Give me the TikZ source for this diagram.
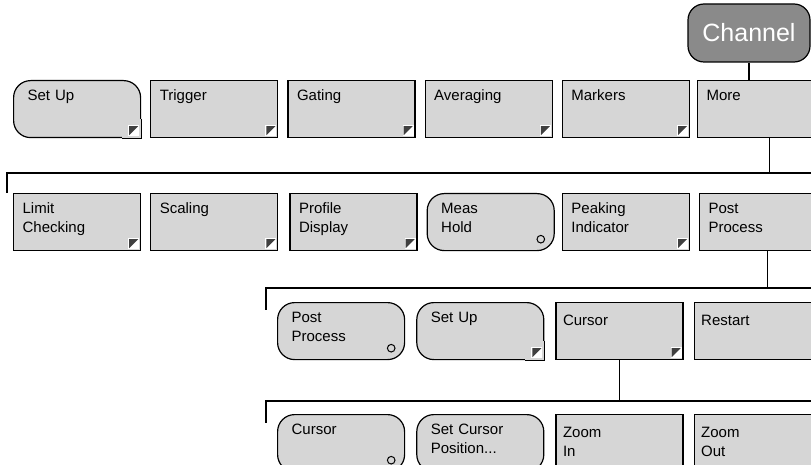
\documentclass[tikz,border=0pt]{standalone}
\usepackage{fontspec}
\setmainfont{Liberation Sans}
\usetikzlibrary{positioning, calc}
\definecolor{keygray}{HTML}{D6D6D6}
\definecolor{chgray}{HTML}{8A8A8A}
\definecolor{markgray}{HTML}{404040}
\tikzset{
  softkey/.style={rectangle, draw=black, line width=1.2pt, fill=keygray, inner xsep=9pt, inner ysep=7pt, text width=109pt, text height=13pt, text depth=30pt, align=left},
  lowkey/.style={softkey, text height=16pt, text depth=27pt, inner xsep=7pt, text width=113pt},
  roundkey/.style={softkey, rounded corners=17pt, inner xsep=14pt, text width=99pt},
  hardkey/.style={rectangle, rounded corners=16pt, draw=black, line width=1.2pt, fill=chgray, text=white, minimum width=122pt, minimum height=58pt, font=\fontsize{25}{30}\selectfont},
  bus/.style={line width=1.2pt}
}
% small marks in the lower right corner of a key
\newcommand{\submenu}[1]{%
  \fill[white] ($(#1.south east)+(-13pt,2pt)$) rectangle ($(#1.south east)+(-2pt,13pt)$);
  \fill[markgray] ($(#1.south east)+(-12pt,3pt)$) -- ($(#1.south east)+(-12pt,12pt)$) -- ($(#1.south east)+(-3pt,12pt)$) -- cycle;}
\newcommand{\togglemark}[1]{%
  \draw[line width=1pt] ($(#1.south east)+(-14pt,12pt)$) circle[radius=3.8pt];}
\newcommand{\sqcorner}[1]{%
  \fill[keygray] ($(#1.south east)+(-19pt,0.6pt)$) rectangle ($(#1.south east)+(-0.6pt,19pt)$);
  \draw[bus] ($(#1.south east)+(-19pt,0)$) -- (#1.south east) -- ++(0,19pt);}

\begin{document}
\begin{tikzpicture}[node distance=9pt, every node/.style={font=\fontsize{15}{18.5}\selectfont}]
        \useasboundingbox (0pt,0pt) rectangle (811pt,-465pt);

        \node (channel) [hardkey] at (749pt,-33pt) {Channel};

        % first row
        \node (setup) [roundkey, anchor=north west] at (13pt,-80pt) {Set Up};
        \node (trigger) [softkey, right=of setup] {Trigger};
        \node (gating) [softkey, right=of trigger] {Gating};
        \node (averaging) [softkey, right=of gating] {Averaging};
        \node (markers) [softkey, right=of averaging] {Markers};
        \node (more) [softkey, right=7pt of markers] {More};

        % second row
        \node (limit) [softkey, anchor=north west] at (13pt,-193pt) {Limit\\Checking};
        \node (scaling) [softkey, right=of limit] {Scaling};
        \node (profile) [softkey, right=11pt of scaling] {Profile\\Display};
        \node (meashold) [roundkey, right=of profile] {Meas\\Hold};
        \node (peaking) [softkey, right=7pt of meashold] {Peaking\\Indicator};
        \node (postproc) [softkey, right=of peaking] {Post\\Process};

        % third row
        \node (ppon) [roundkey, anchor=north west] at (277pt,-302pt) {Post\\Process};
        \node (ppsetup) [roundkey, right=11pt of ppon] {Set Up};
        \node (cursorkey) [lowkey, right=11pt of ppsetup] {Cursor};
        \node (restart) [lowkey, right=10pt of cursorkey] {Restart};

        % fourth row
        \node (cursoron) [roundkey, anchor=north west] at (277pt,-414pt) {Cursor};
        \node (setcursor) [roundkey, right=11pt of cursoron] {Set Cursor\\Position...};
        \node (zoomin) [lowkey, right=11pt of setcursor] {Zoom\\In};
        \node (zoomout) [lowkey, right=10pt of zoomin] {Zoom\\Out};

        \sqcorner{setup}
        \sqcorner{ppsetup}
        \foreach \k in {setup, trigger, gating, averaging, markers, more, limit, scaling, profile, peaking, postproc, ppsetup, cursorkey}
            {\submenu{\k}}
        \foreach \k in {meashold, ppon, cursoron}
            {\togglemark{\k}}

        \coordinate (busa) at (7pt,-173pt);
        \coordinate (busaend) at (815pt,-173pt);
        \coordinate (busb) at (266pt,-288pt);
        \coordinate (busbend) at (815pt,-288pt);
        \coordinate (busc) at (266pt,-401pt);
        \coordinate (buscend) at (815pt,-401pt);

        \draw [bus] (channel.south) -- (channel.south |- more.north);
        \draw [bus] ($(more.south)+(8pt,0)$) -- ($(more.south |- busa)+(8pt,0)$);
        \draw [bus] (busaend) -- (busa) -- ++(0,-20pt);
        \draw [bus] ($(postproc.south)+(4pt,0)$) -- ($(postproc.south |- busb)+(4pt,0)$);
        \draw [bus] (busbend) -- (busb) -- ++(0,-22pt);
        \draw [bus] (cursorkey.south) -- (cursorkey.south |- busc);
        \draw [bus] (buscend) -- (busc) -- ++(0,-22pt);
    \end{tikzpicture}
\end{document}
